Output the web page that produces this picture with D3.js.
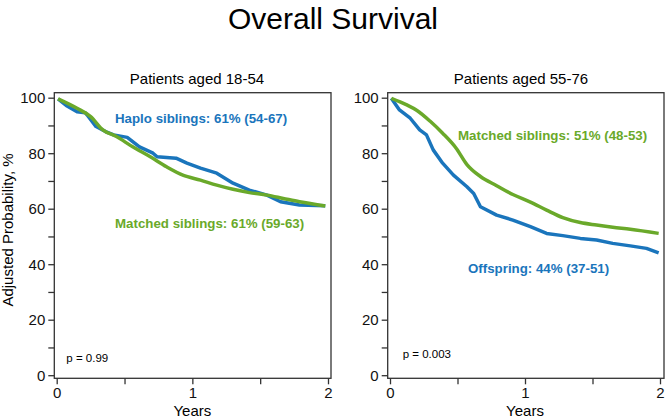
<!DOCTYPE html>
<meta charset="utf-8">
<title>Overall Survival</title>
<script src="https://d3js.org/d3.v7.min.js"></script>
<style>
  body { margin: 0; background: #fff; font-family: "Liberation Sans", Arial, sans-serif; }
  .axis path, .axis line { stroke: #333; stroke-width: 1.3px; }
  .axis text { font-family: "Liberation Sans", Arial, sans-serif; font-size: 15px; fill: #111; }
</style>
<div id="chart"></div>
<script>
// survival estimates: [years, adjusted probability %]
var youngHaplo = [[0.01,99.6],[0.07,97.2],[0.15,94.9],[0.21,94.6],[0.23,93.4],[0.29,89.6],[0.36,87.8],
  [0.42,86.6],[0.52,85.7],[0.61,82.3],[0.71,80],[0.74,78.7],[0.88,78.2],[0.96,76.4],[1.06,74.6],
  [1.18,72.8],[1.30,69.2],[1.42,66.7],[1.55,64.9],[1.65,62.5],[1.79,61.3],[1.98,61.1]];
var youngMatched = [[0.01,99.6],[0.15,96.2],[0.25,93.2],[0.34,88.4],[0.44,86],[0.56,82.3],[0.69,78.7],
  [0.81,75.1],[0.93,72.1],[1.06,70.3],[1.18,68.5],[1.30,67],[1.42,65.8],[1.55,64.9],[1.67,63.7],
  [1.79,62.5],[1.98,61]];
var oldOffspring = [[0.01,99.8],[0.07,95.6],[0.15,92.6],[0.22,88.4],[0.27,86.6],[0.32,81.2],[0.39,76.4],
  [0.47,72.1],[0.57,67.9],[0.62,65.5],[0.67,60.7],[0.79,57.7],[0.91,55.9],[1.04,53.5],[1.16,51.1],
  [1.28,50.3],[1.41,49.3],[1.53,48.7],[1.65,47.5],[1.78,46.6],[1.90,45.7],[1.99,44.1]];
var oldMatched = [[0.01,99.8],[0.12,97.5],[0.20,95.4],[0.30,91.4],[0.39,87.2],[0.49,81.8],[0.57,75.9],
  [0.67,71.6],[0.79,68.3],[0.91,65.1],[1.04,62.4],[1.16,59.5],[1.28,56.8],[1.41,55],[1.53,54.1],
  [1.65,53.3],[1.78,52.6],[1.99,51.1]];

var yTicks = [0,10,20,30,40,50,60,70,80,90,100];
var xTicks = [0,0.5,1,1.5,2];
var panelTitles = ["Patients aged 18-54", "Patients aged 55-76"];
var labels = [
  ["Haplo siblings: 61% (54-67)", "Matched siblings: 61% (59-63)"],
  ["Offspring: 44% (37-51)", "Matched siblings: 51% (48-53)"]
];
var pValues = ["p = 0.99", "p = 0.003"];

var blue = "#1a75bc", green = "#6aa92a";

var svg = d3.select("#chart").append("svg")
  .attr("width", 665).attr("height", 418);

// main title
svg.append("text")
  .attr("x", 333).attr("y", 29)
  .attr("text-anchor", "middle")
  .style("font-size", "30px")
  .text("Overall Survival");

var y = d3.scaleLinear().domain([0, 100]).range([375.2, 97.7]);

function drawPanel(i, x0, x2, boxL, boxR, titleX, blueData, greenData, txt) {
  var x = d3.scaleLinear().domain([0, 2]).range([x0, x2]);

  // frame
  svg.append("rect")
    .attr("x", boxL).attr("y", 92.7)
    .attr("width", boxR - boxL).attr("height", 378.3 - 92.7)
    .attr("fill", "none").attr("stroke", "#333").attr("stroke-width", 1.3);

  svg.append("g").attr("class", "axis")
    .attr("transform", "translate(" + boxL + ",0)")
    .call(d3.axisLeft(y).tickValues(yTicks).tickSize(6).tickPadding(3)
      .tickFormat(function(d) { return d % 20 === 0 ? d : ""; }))
    .select(".domain").remove();

  svg.append("g").attr("class", "axis")
    .attr("transform", "translate(0,378.3)")
    .call(d3.axisBottom(x).tickValues(xTicks).tickSize(6).tickPadding(3)
      .tickFormat(function(d) { return d % 1 === 0 ? d : ""; }))
    .select(".domain").remove();

  svg.append("text")
    .attr("x", titleX).attr("y", 84)
    .attr("text-anchor", "middle")
    .style("font-size", "15px")
    .text(panelTitles[i]);

  svg.append("text")
    .attr("x", x(1)).attr("y", 416)
    .attr("text-anchor", "middle")
    .style("font-size", "15px")
    .text("Years");

  var line = d3.line()
    .x(function(d) { return x(d[0]); })
    .y(function(d) { return y(d[1]); });

  svg.append("path").datum(blueData)
    .attr("d", line.curve(d3.curveLinear))
    .attr("fill", "none").attr("stroke", blue).attr("stroke-width", 3.5)
    .attr("stroke-linejoin", "round");
  svg.append("path").datum(greenData)
    .attr("d", line.curve(d3.curveMonotoneX))
    .attr("fill", "none").attr("stroke", green).attr("stroke-width", 3.5)
    .attr("stroke-linejoin", "round");

  // annotations
  txt.forEach(function(t) {
    svg.append("text")
      .attr("x", t.x).attr("y", t.y)
      .attr("fill", t.c)
      .style("font-size", "13.3px").style("font-weight", "bold")
      .text(t.s);
  });

  svg.append("text")
    .attr("x", boxL + (i === 0 ? 12 : 15)).attr("y", i === 0 ? 361.5 : 358)
    .style("font-size", "11.5px")
    .text(pValues[i]);
}

drawPanel(0, 56.7, 328, 54.3, 331, 197, youngHaplo, youngMatched, [
  {s: labels[0][0], x: 115, y: 123, c: blue},
  {s: labels[0][1], x: 115, y: 228, c: green}
]);
drawPanel(1, 390, 660, 387.7, 664, 521, oldOffspring, oldMatched, [
  {s: labels[1][1], x: 458, y: 140, c: green},
  {s: labels[1][0], x: 468, y: 272.5, c: blue}
]);

// y axis label (left panel only)
svg.append("text")
  .attr("transform", "translate(13,230) rotate(-90)")
  .attr("text-anchor", "middle")
  .style("font-size", "15px")
  .text("Adjusted Probability, %");
</script>
